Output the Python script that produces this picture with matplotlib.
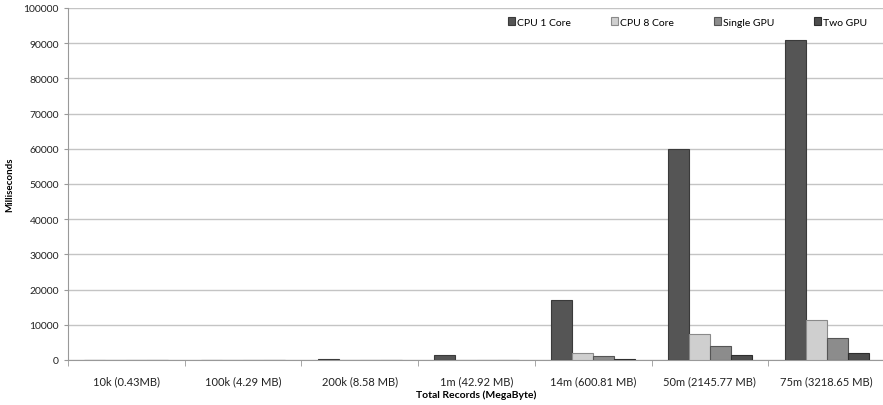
import matplotlib.pyplot as plt
import numpy as np

plt.rcParams['font.family'] = ['Lato', 'DejaVu Sans']

categories = ['10k (0.43MB)', '100k (4.29 MB)', '200k (8.58 MB)', '1m (42.92 MB)',
              '14m (600.81 MB)', '50m (2145.77 MB)', '75m (3218.65 MB)']
series = ['CPU 1 Core', 'CPU 8 Core', 'Single GPU', 'Two GPU']
cpu1 = [60, 80, 400, 1400, 17000, 60000, 91000]
cpu8 = [30, 40, 50, 100, 2100, 7400, 11400]
gpu1 = [30, 40, 50, 80, 1000, 4100, 6300]
gpu2 = [30, 40, 50, 60, 200, 1300, 2000]
values = [cpu1, cpu8, gpu1, gpu2]
colors = ['#555555', '#cfcfcf', '#8c8c8c', '#4d4d4d']
edges = ['#3a3a3a', '#8a8a8a', '#555555', '#2e2e2e']

fig = plt.figure(figsize=(8.83, 4.06), dpi=100)
ax = fig.add_axes([68/883, 45/406, 817/883, 352/406])

x = np.arange(len(categories))
w = 0.18
for i, (vals, name) in enumerate(zip(values, series)):
    ax.bar(x + (i - 1.5) * w, vals, w, color=colors[i], edgecolor=edges[i],
           linewidth=0.8, label=name, zorder=3)

ax.set_xlim(-0.5, len(categories) - 0.5)
ax.set_ylim(0, 100000)
ax.set_yticks(np.arange(0, 100001, 10000))
ax.tick_params(axis='y', labelsize=7.5, length=3, color='#999999', labelcolor='#222222')
ax.set_xticks(x)
ax.set_xticklabels(categories, fontsize=8, color='#222222')
ax.tick_params(axis='x', length=0, pad=11)
ax.set_xticks(np.arange(-0.5, len(categories)), minor=True)
ax.tick_params(axis='x', which='minor', length=4, color='#999999')

ax.grid(axis='y', color='#c4c4c4', linewidth=1.0, zorder=0)
for s in ['top', 'right']:
    ax.spines[s].set_visible(False)
ax.spines['left'].set_color('#999999')
ax.spines['bottom'].set_color('#999999')

ax.set_ylabel('Milliseconds', fontsize=7, fontweight='bold')
ax.yaxis.set_label_coords(-0.066, 0.5)
ax.set_xlabel('Total Records (MegaByte)', fontsize=7.5, fontweight='bold', labelpad=2)

ax.legend(loc='upper right', bbox_to_anchor=(0.99, 1.0), ncol=4, frameon=False,
          fontsize=7.5, handlelength=0.7, handleheight=0.7, handletextpad=0.2,
          columnspacing=3.8)

fig.savefig('out.png', dpi=100)
